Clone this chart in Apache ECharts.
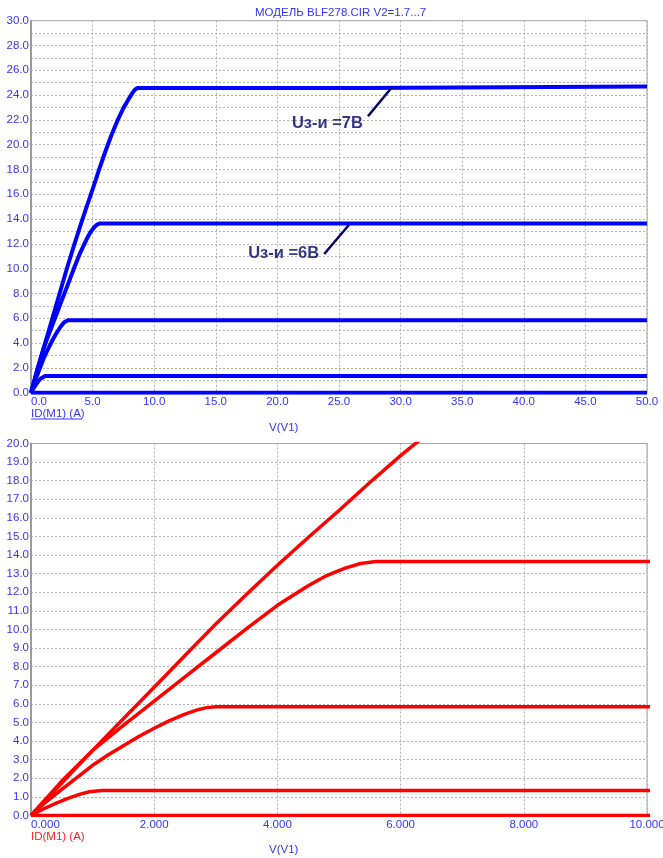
<!DOCTYPE html>
<html>
<head>
<meta charset="utf-8">
<script src="https://cdn.jsdelivr.net/npm/echarts@6/dist/echarts.min.js"></script>
<style>
  html, body { margin: 0; padding: 0; background: #ffffff; }
  #chart { width: 663px; height: 858px; }
</style>
</head>
<body>
<div id="chart"></div>
<script>
// Output characteristics of the BLF278 model: drain current ID(M1), A
// against drain voltage V(V1), V — one curve per gate voltage step.
const curveVgs7 = [[0,0],[0.5,1.75],[1,3.5],[1.5,5.2],[2,6.9],[2.5,8.6],[3,10.3],[3.5,11.9],[4,13.45],
  [4.5,14.95],[5,16.4],[5.5,17.9],[6,19.35],[6.5,20.7],[7,21.9],[7.5,22.95],[8,23.8],[8.25,24.2],
  [8.45,24.45],[8.65,24.58],[26.9,24.58],[27.0,24.7],[50,24.7]];
const curveVgs6 = [[0,0],[0.5,1.85],[1,3.5],[1.5,4.85],[2,6.15],[2.5,7.45],[3,8.75],[3.5,10.05],
  [4,11.3],[4.5,12.35],[4.8,12.9],[5.1,13.3],[5.35,13.55],[5.6,13.65],[50,13.65]];
const curveVgs5 = [[0,0],[0.25,0.75],[0.5,1.4],[0.75,2.05],[1,2.7],[1.25,3.25],[1.5,3.75],[1.75,4.25],
  [2,4.69],[2.25,5.1],[2.5,5.45],[2.7,5.68],[2.85,5.8],[3,5.85],[50,5.85]];
const curveVgs4 = [[0,0],[0.2,0.35],[0.4,0.65],[0.6,0.92],[0.8,1.15],[0.95,1.28],[1.15,1.35],[50,1.35]];
const curveOff = [[0,0],[50,0]];
const curves = [curveOff, curveVgs4, curveVgs5, curveVgs6, curveVgs7];

// Leader lines for the gate-voltage callouts (top panel, data units)
const callout7 = [[27.35,22.3],[29.3,24.63]];
const callout6 = [[23.8,11.19],[25.8,13.52]];
const calloutText7 = 'Uз-и =7В';
const calloutText6 = 'Uз-и =6В';

const titleText = 'МОДЕЛЬ BLF278.CIR V2=1.7...7';
const yName = 'ID(M1) (A)';
const xName = 'V(V1)';

const FONT = '"Liberation Sans", Arial, sans-serif';
const LABEL_BLUE = '#3434ff';
const GRID_LINE = { show: true, lineStyle: { color: '#b0b0b0', type: [2, 2], width: 1 } };

function xAxisCfg(gridIndex, max, interval, digits) {
  return {
    type: 'value', gridIndex, min: 0, max, interval,
    axisLine: { show: false }, axisTick: { show: false },
    axisLabel: {
      color: LABEL_BLUE, fontFamily: FONT, fontSize: 11.5, margin: 3,
      alignMinLabel: 'left', formatter: v => v.toFixed(digits)
    },
    splitLine: GRID_LINE
  };
}
function yAxisCfg(gridIndex, max, interval, minor) {
  const cfg = {
    type: 'value', gridIndex, min: 0, max, interval,
    axisLine: { show: true, lineStyle: { color: '#9a9a9a', width: 2 } },
    axisTick: { show: false },
    axisLabel: {
      color: LABEL_BLUE, fontFamily: FONT, fontSize: 11.5, margin: 2,
      formatter: v => v.toFixed(1)
    },
    splitLine: GRID_LINE
  };
  if (minor) {
    cfg.minorTick = { show: false, splitNumber: minor };
    cfg.minorSplitLine = GRID_LINE;
  }
  return cfg;
}

const series = [];
curves.forEach(c => {
  series.push({
    type: 'line', xAxisIndex: 0, yAxisIndex: 0, data: c, symbol: 'none',
    lineStyle: { color: '#0000ff', width: 4, join: 'round' }, silent: true, z: 3
  });
  series.push({
    type: 'line', xAxisIndex: 1, yAxisIndex: 1, data: c, symbol: 'none',
    lineStyle: { color: '#ff0000', width: 3.5, join: 'round' }, silent: true, z: 3
  });
});
[[callout7, calloutText7, [0, 7]], [callout6, calloutText6, [0, 0]]].forEach(([pts, txt, off]) => {
  series.push({
    type: 'line', xAxisIndex: 0, yAxisIndex: 0, data: pts, symbol: 'none',
    lineStyle: { color: '#000066', width: 2.5 }, silent: true, z: 4
  });
  series.push({
    type: 'scatter', xAxisIndex: 0, yAxisIndex: 0, data: [pts[0]], symbolSize: 0, silent: true, z: 4,
    label: {
      show: true, position: 'left', distance: 5, offset: off, formatter: txt,
      color: '#000066', fontFamily: FONT, fontSize: 16.5, fontWeight: 'bold'
    }
  });
});

const chart = echarts.init(document.getElementById('chart'), null, { renderer: 'canvas' });
chart.setOption({
  animation: false,
  backgroundColor: '#ffffff',
  grid: [
    { left: 31, top: 20.7, right: 16, height: 372, show: true, borderColor: '#a0a0a0', borderWidth: 1,
      backgroundColor: 'transparent', outerBoundsMode: 'none', containLabel: false },
    { left: 31, top: 443.5, right: 16, height: 372, show: true, borderColor: '#a0a0a0', borderWidth: 1,
      backgroundColor: 'transparent', outerBoundsMode: 'none', containLabel: false }
  ],
  xAxis: [xAxisCfg(0, 50, 5, 1), xAxisCfg(1, 10, 2, 3)],
  yAxis: [yAxisCfg(0, 30, 2, 2), yAxisCfg(1, 20, 1, 0)],
  series,
  graphic: [
    { type: 'text', left: 255, top: 7, style: { text: titleText, fill: LABEL_BLUE, font: '11.5px ' + FONT } },
    { type: 'text', left: 31, top: 408, style: { text: yName, fill: LABEL_BLUE, font: '11.5px ' + FONT } },
    { type: 'line', shape: { x1: 31, y1: 419, x2: 82, y2: 419 }, style: { stroke: LABEL_BLUE, lineWidth: 1 } },
    { type: 'text', left: 269, top: 422, style: { text: xName, fill: LABEL_BLUE, font: '11.5px ' + FONT } },
    { type: 'text', left: 31, top: 831, style: { text: yName, fill: '#ff2020', font: '11.5px ' + FONT } },
    { type: 'text', left: 269, top: 844, style: { text: xName, fill: LABEL_BLUE, font: '11.5px ' + FONT } }
  ]
});
</script>
</body>
</html>
